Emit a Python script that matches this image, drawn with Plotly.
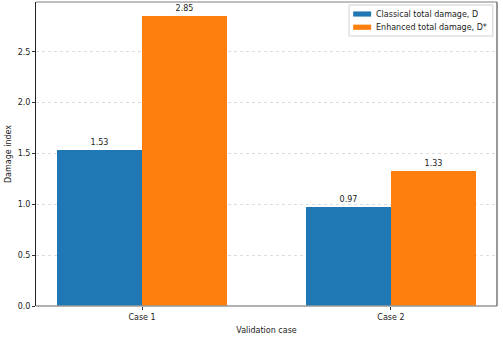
import plotly.graph_objects as go

cases = ["Case 1", "Case 2"]
classical = [1.53, 0.97]
enhanced = [2.85, 1.33]
y_ticks = [0.0, 0.5, 1.0, 1.5, 2.0, 2.5]
series_names = ["Classical total damage, D", "Enhanced total damage, D*"]
series_colors = ["#1f77b4", "#ff7f0e"]

xpos = list(range(len(cases)))
font = "DejaVu Sans"
fs = 8

fig = go.Figure()
for vals, name, color, off in [(classical, series_names[0], series_colors[0], -0.34),
                               (enhanced, series_names[1], series_colors[1], 0.0)]:
    fig.add_trace(go.Bar(
        x=xpos, y=vals, name=name,
        marker=dict(color=color, line=dict(width=0)),
        offset=off, width=0.34,
        text=[f"{v:.2f}" for v in vals], textposition="outside",
        textfont=dict(size=fs, color="#222"), cliponaxis=False,
        showlegend=False,
    ))

# legend drawn in paper coordinates (matplotlib-style)
shapes = [
    dict(type="rect", xref="paper", yref="paper", x0=0.679, x1=0.991, y0=0.888, y1=0.990,
         line=dict(color="#d0d0d0", width=1), fillcolor="rgba(255,255,255,0.85)", layer="above"),
]
annotations = []
row_y = [0.9605, 0.917]
for name, color, yc in zip(series_names, series_colors, row_y):
    shapes.append(dict(type="rect", xref="paper", yref="paper", x0=0.688, x1=0.727,
                       y0=yc - 0.0085, y1=yc + 0.0085, line=dict(width=0),
                       fillcolor=color, layer="above"))
    annotations.append(dict(xref="paper", yref="paper", x=0.7375, y=yc, text=name,
                            showarrow=False, xanchor="left", yanchor="middle",
                            xshift=-2, font=dict(size=fs, color="#222")))

shapes += [
    dict(type="line", xref="paper", yref="paper", x0=0, x1=1, y0=0, y1=0,
         line=dict(color="#999999", width=1.5)),
    dict(type="line", xref="paper", yref="paper", x0=0, x1=1, y0=1, y1=1,
         line=dict(color="#aaaaaa", width=1.5)),
    dict(type="line", xref="paper", yref="paper", x0=1, x1=1, y0=0, y1=1,
         line=dict(color="#777777", width=1.5)),
]

fig.update_layout(
    width=503, height=340,
    margin=dict(l=36, r=6, t=2, b=34, autoexpand=False),
    paper_bgcolor="white", plot_bgcolor="white",
    font=dict(family=font, size=fs, color="#222"),
    bargap=0, barmode="overlay",
    showlegend=False,
    xaxis=dict(
        range=[-0.426, 1.426], automargin=False,
        tickvals=xpos, ticktext=cases,
        ticks="outside", ticklen=3, tickcolor="#333",
        showgrid=False, zeroline=False,
        title=dict(text="Validation case", font=dict(size=fs), standoff=6),
        tickfont=dict(size=fs),
    ),
    yaxis=dict(
        range=[0, 2.99], automargin=False,
        tickvals=y_ticks, ticktext=[f"{v:.1f}" for v in y_ticks],
        ticks="outside", ticklen=3, tickcolor="#333",
        showgrid=True, gridcolor="#dddddd", griddash="dot", gridwidth=1,
        zeroline=False,
        showline=True, linecolor="#222", linewidth=1,
        title=dict(text="Damage index", font=dict(size=fs), standoff=4),
        tickfont=dict(size=fs),
    ),
    shapes=shapes,
    annotations=annotations,
)

fig.write_html("out.html", post_script="document.body.style.margin='0';",
               config={"displayModeBar": False})
